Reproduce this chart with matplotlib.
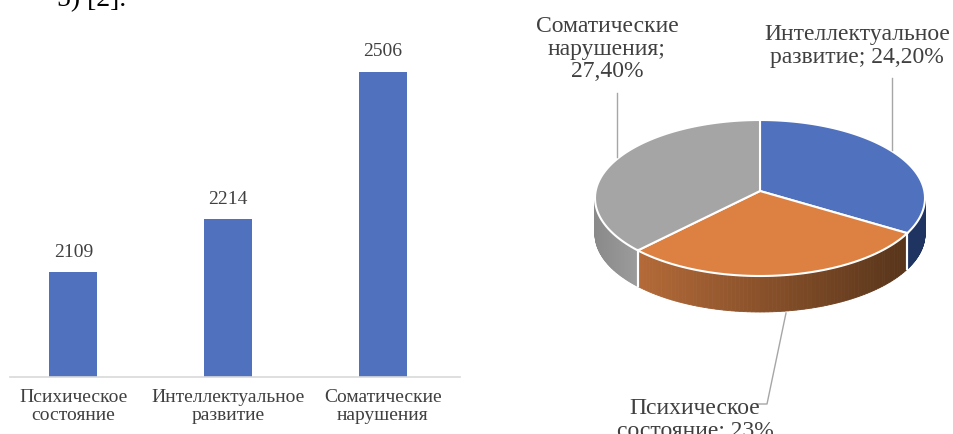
import numpy as np
import matplotlib.pyplot as plt
from matplotlib.patches import Polygon
from matplotlib.colors import to_rgb

plt.rcParams['font.family'] = ['Liberation Serif', 'DejaVu Serif']

# bar chart data
categories = ['Психическое\nсостояние', 'Интеллектуальное\nразвитие', 'Соматические\nнарушения']
counts = [2109, 2214, 2506]

# pie chart data (clockwise from 12 o'clock)
pie_labels = ['Интеллектуальное\nразвитие; 24,20%', 'Психическое\nсостояние: 23%',
              'Соматические\nнарушения;\n27,40%']
pie_shares = [24.2, 23.0, 27.4]
pie_colors = ['#4f71be', '#dd8143', '#a5a5a5']
side_left = ['#1f3461', '#b46a38', '#8a8a8a']
side_right = ['#1f3461', '#57341a', '#9c9c9c']

text_col = '#404040'

fig = plt.figure(figsize=(9.54, 4.34), dpi=100)

# ---- bar chart ----
ax = fig.add_axes([10 / 954, 57 / 434, 450 / 954, 337 / 434])
x = np.arange(len(categories))
bars = ax.bar(x, counts, width=0.31, color='#4f71be')
ax.set_ylim(1900, 1900 + 337 / 0.504)
ax.set_xlim(-0.41, 2.5)
for s in ['top', 'right', 'left']:
    ax.spines[s].set_visible(False)
ax.spines['bottom'].set_color('#d9d9d9')
ax.spines['bottom'].set_linewidth(1.2)
ax.set_yticks([])
ax.set_xticks(x, categories, fontsize=14, color=text_col, linespacing=1.05)
ax.tick_params(axis='x', length=0, pad=9)
for b, v in zip(bars, counts):
    ax.annotate(str(v), (b.get_x() + b.get_width() / 2, v), xytext=(0, 8),
                textcoords='offset points', ha='center', va='bottom',
                fontsize=14, color=text_col)

fig.text(57 / 954, 1 - 6 / 434, '5) [2].', fontsize=20, color='black',
         va='baseline', ha='left')

# ---- 3D-looking pie, drawn in pixel coordinates ----
pa = fig.add_axes([0, 0, 1, 1])
pa.set_xlim(0, 954)
pa.set_ylim(0, 434)
pa.axis('off')

cx, cy, rx, ry, depth = 760, 236, 165, 78, 36
apex = (cx, cy + 7)


def pt(t):
    r = np.radians(t)
    return cx + rx * np.cos(r), cy + ry * np.sin(r)


fr = np.array(pie_shares) / sum(pie_shares)
spans = []
start = 90.0
for f in fr:
    end = start - 360 * f
    spans.append((start, end))
    start = end

# side walls (front half only)
for (a0, a1), cl, cr in zip(spans, side_left, side_right):
    hi, lo = min(a0, 0), max(a1, -180)
    if hi <= lo:
        continue
    ts = np.linspace(hi, lo, 80)
    xs = [pt(t)[0] for t in ts]
    xmin, xmax = min(xs), max(xs)
    c0, c1 = np.array(to_rgb(cl)), np.array(to_rgb(cr))
    for t0, t1 in zip(ts[:-1], ts[1:]):
        p0, p1 = pt(t0), pt(t1)
        k = ((p0[0] + p1[0]) / 2 - xmin) / max(xmax - xmin, 1)
        col = c0 + (c1 - c0) * k
        pa.add_patch(Polygon([p0, p1, (p1[0], p1[1] - depth), (p0[0], p0[1] - depth)],
                             closed=True, facecolor=col, edgecolor=col, lw=0.6))
    for t in (a0, a1):
        if -180 < t < 0:
            px, py = pt(t)
            pa.plot([px, px], [py, py - depth], color='white', lw=1.5)

# top faces
for (a0, a1), col in zip(spans, pie_colors):
    ts = np.linspace(a0, a1, 120)
    pts = [apex] + [pt(t) for t in ts]
    pa.add_patch(Polygon(pts, closed=True, facecolor=col, edgecolor='white', lw=1.5))

# labels and leader lines
lead = '#a6a6a6'
fs = 17
pa.text(857, 388, pie_labels[0], ha='center', va='center', fontsize=fs,
        color=text_col, linespacing=1.12)
pa.plot([892, 892], [356, 284], color=lead, lw=1)

pa.text(607, 385, pie_labels[2], ha='center', va='center', fontsize=fs,
        color=text_col, linespacing=1.12)
pa.plot([617, 617], [341, 277], color=lead, lw=1)

pa.text(695, 14, pie_labels[1], ha='center', va='center', fontsize=fs,
        color=text_col, linespacing=1.12)
pa.plot([786, 767, 756], [121, 30, 30], color=lead, lw=1)

fig.savefig('out.png', dpi=100)
